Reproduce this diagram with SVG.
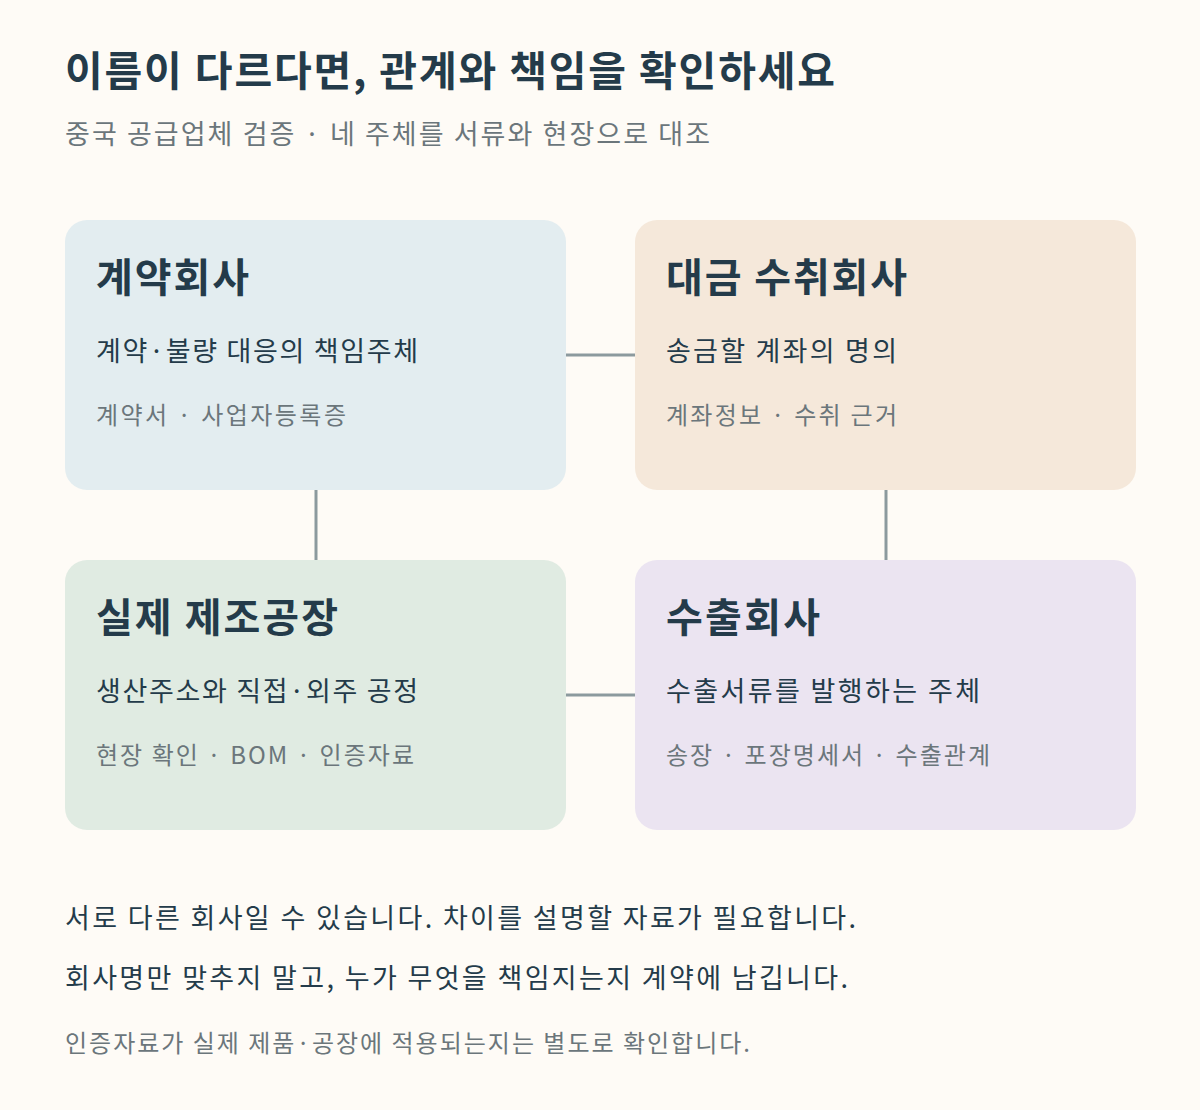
<svg xmlns="http://www.w3.org/2000/svg" width="1200" height="1110" viewBox="0 0 1200 1110">
<style>
text{font-family:"Noto Sans CJK KR","Noto Sans",sans-serif}
.t{font-size:40px;font-weight:700;fill:#243b4a}
.m{font-size:27px;fill:#243b4a}
.s{font-size:24px;fill:#6b767b}
.c{stroke:#8c9a9e;stroke-width:3;fill:none}
</style>
<rect width="1200" height="1110" fill="#fefbf6"/>
<text x="65" y="86" textLength="770" style="font-size:41px;font-weight:700;fill:#243b4a">이름이 다르다면, 관계와 책임을 확인하세요</text>
<text x="65" y="144" textLength="645" style="font-size:27px;fill:#6b767b">중국 공급업체 검증 · 네 주체를 서류와 현장으로 대조</text>
<g id="connectors">
<line class="c" x1="566" y1="355" x2="635" y2="355"/>
<line class="c" x1="316" y1="490" x2="316" y2="560"/>
<line class="c" x1="886" y1="490" x2="886" y2="560"/>
<line class="c" x1="566" y1="695" x2="635" y2="695"/>
</g>
<g id="contract">
<rect x="65" y="220" width="501" height="270" rx="22" fill="#e3edf0"/>
<text class="t" x="96" y="292" textLength="153">계약회사</text>
<text class="m" x="96" y="361" textLength="322">계약·불량 대응의 책임주체</text>
<text class="s" x="96" y="424" textLength="250">계약서 · 사업자등록증</text>
</g>
<g id="payee">
<rect x="635" y="220" width="501" height="270" rx="22" fill="#f5e8da"/>
<text class="t" x="666" y="292" textLength="241">대금 수취회사</text>
<text class="m" x="666" y="361" textLength="231">송금할 계좌의 명의</text>
<text class="s" x="666" y="424" textLength="231">계좌정보 · 수취 근거</text>
</g>
<g id="factory">
<rect x="65" y="560" width="501" height="270" rx="22" fill="#e0ebe2"/>
<text class="t" x="96" y="632" textLength="242">실제 제조공장</text>
<text class="m" x="96" y="701" textLength="322">생산주소와 직접·외주 공정</text>
<text class="s" x="96" y="764" textLength="318">현장 확인 · BOM · 인증자료</text>
</g>
<g id="exporter">
<rect x="635" y="560" width="501" height="270" rx="22" fill="#ebe4f1"/>
<text class="t" x="666" y="632" textLength="154">수출회사</text>
<text class="m" x="666" y="701" textLength="314">수출서류를 발행하는 주체</text>
<text class="s" x="666" y="764" textLength="324">송장 · 포장명세서 · 수출관계</text>
</g>
<text class="m" x="65" y="928" textLength="791">서로 다른 회사일 수 있습니다. 차이를 설명할 자료가 필요합니다.</text>
<text class="m" x="65" y="988" textLength="783">회사명만 맞추지 말고, 누가 무엇을 책임지는지 계약에 남깁니다.</text>
<text class="s" x="65" y="1052" textLength="685">인증자료가 실제 제품·공장에 적용되는지는 별도로 확인합니다.</text>
</svg>
